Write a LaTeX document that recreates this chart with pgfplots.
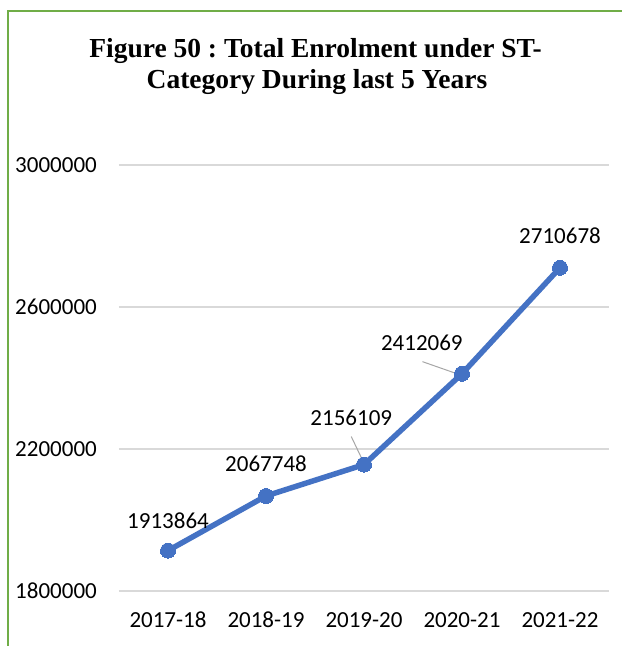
\documentclass[border=0pt]{standalone}
\usepackage{fontspec}
\setmainfont{Liberation Serif}
\newfontfamily\calfont{Carlito}
\usepackage{pgfplots}
\pgfplotsset{compat=1.18}
\definecolor{lineblue}{HTML}{4472C4}
\definecolor{framegreen}{HTML}{70AD47}
\definecolor{gridgray}{HTML}{D9D9D9}
\definecolor{leadergray}{HTML}{A6A6A6}
\frenchspacing
\begin{document}
\begin{tikzpicture}[x=1pt,y=1pt]
\path[use as bounding box] (0,0) rectangle (622,-646);
\draw[framegreen, line width=2pt] (8,-646) -- (8,-11) -- (622,-11);
\begin{scope}[every node/.style={font=\bfseries\fontsize{27.5}{32}\selectfont, inner sep=0pt, anchor=base}]
\node at (315.5,-57) {Figure 50 : Total Enrolment under ST-};
\node at (317,-88) {Category During last 5 Years};
\end{scope}
\begin{axis}[
  at={(119pt,-591pt)}, anchor=south west,
  scale only axis, width=490pt, height=426pt,
  xmin=-0.5, xmax=4.5, ymin=1800000, ymax=3000000,
  xtick={0,1,2,3,4},
  xticklabels={2017-18,2018-19,2019-20,2020-21,2021-22},
  ytick={1800000,2200000,2600000,3000000},
  scaled y ticks=false,
  /pgf/number format/assume math mode=true,
  yticklabel={\pgfmathprintnumber[fixed,precision=0,1000 sep={}]{\tick}},
  tick label style={font=\calfont\fontsize{23}{27}\selectfont, inner sep=0pt},
  yticklabel style={anchor=east, xshift=-22pt},
  xticklabel style={anchor=north, yshift=-21pt},
  axis line style={draw=none},
  major tick style={draw=none},
  ymajorgrids,
  grid style={gridgray, line width=1.5pt},
  clip=false,
]
\addplot[lineblue, line width=5.5pt, mark=*, mark size=7.5pt, mark options={fill=lineblue, draw=lineblue, line width=0pt}]
  coordinates {(0,1913864) (1,2067748) (2,2156109) (3,2412069) (4,2710678)};
\draw[leadergray, line width=1pt] (axis cs:1.87,2235000) -- (axis cs:2,2160000);
\draw[leadergray, line width=1pt] (axis cs:2.597,2446000) -- (axis cs:2.99,2408000);
\begin{scope}[every node/.style={font=\calfont\fontsize{23}{27}\selectfont, inner sep=0pt}]
\node at (axis cs:0,1997000) {1913864};
\node at (axis cs:1,2157700) {2067748};
\node at (axis cs:1.87,2287300) {2156109};
\node at (axis cs:2.59,2498600) {2412069};
\node at (axis cs:4,2800000) {2710678};
\end{scope}
\end{axis}
\end{tikzpicture}
\end{document}
